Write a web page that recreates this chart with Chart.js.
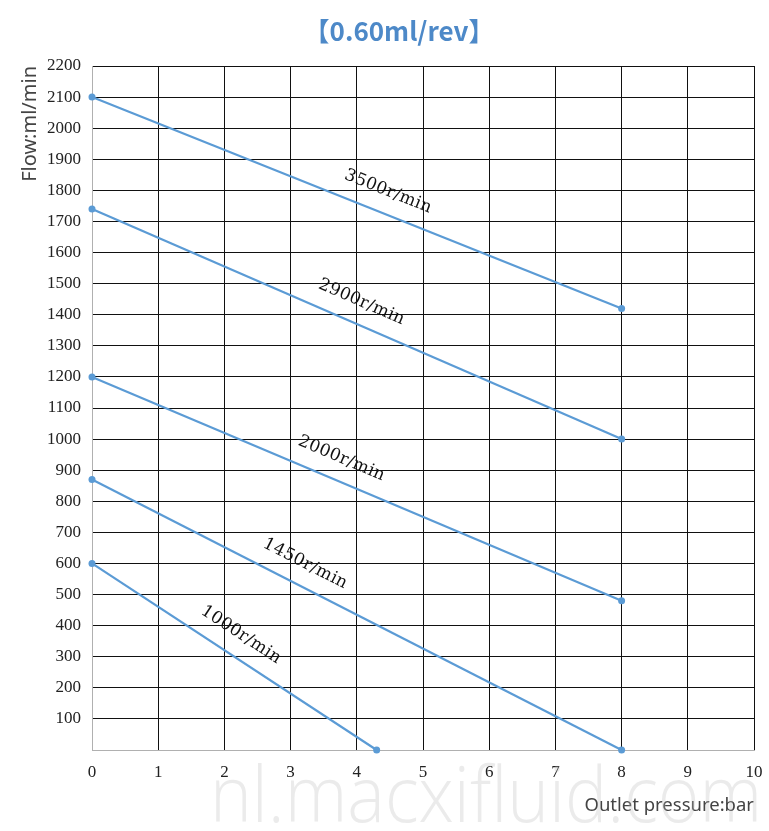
<!DOCTYPE html>
<html>
<head>
<meta charset="utf-8">
<script src="https://cdn.jsdelivr.net/npm/chart.js@4.4.1/dist/chart.umd.min.js"></script>
<style>
html,body{margin:0;padding:0;background:#fff;}
#wrap{width:769px;height:831px;}
</style>
</head>
<body>
<div id="wrap"><canvas id="c" width="769" height="831"></canvas></div>
<script>
const chartTitle = '【0.60ml/rev】';
const speedLabels = ['3500r/min', '2900r/min', '2000r/min', '1450r/min', '1000r/min'];
const startPressure = [0, 0, 0, 0, 0];
const endPressure = [8, 8, 8, 8, 4.3];
const startFlow = [2100, 1740, 1200, 870, 600];
const endFlow = [1420, 1000, 480, 0, 0];
const labelAnchorPressure = [4.35, 3.94, 3.64, 3.07, 2.07];
const xTicks = [0, 1, 2, 3, 4, 5, 6, 7, 8, 9, 10];
const yTicks = [100, 200, 300, 400, 500, 600, 700, 800, 900, 1000, 1100, 1200, 1300, 1400, 1500, 1600, 1700, 1800, 1900, 2000, 2100, 2200];
const watermark = 'nl.macxifluid.com';

const lineColor = '#5b9bd5';

const datasets = speedLabels.map((s, i) => ({
  label: s,
  data: [{x: startPressure[i], y: startFlow[i]}, {x: endPressure[i], y: endFlow[i]}],
  showLine: true,
  clip: false,
  borderColor: lineColor,
  backgroundColor: lineColor,
  borderWidth: 2.2,
  pointRadius: 3.5,
  pointHoverRadius: 3.5,
  pointBorderWidth: 0
}));

const decorPlugin = {
  id: 'decor',
  afterDatasetsDraw(chart) {
    const ctx = chart.ctx;
    const xs = chart.scales.x, ys = chart.scales.y;
    ctx.save();
    ctx.font = '17px "DejaVu Serif"';
    ctx.fillStyle = '#111';
    ctx.textAlign = 'center';
    ctx.textBaseline = 'middle';
    try { ctx.letterSpacing = '0.3px'; } catch(e) {}
    speedLabels.forEach((s, i) => {
      const x0 = xs.getPixelForValue(startPressure[i]);
      const y0 = ys.getPixelForValue(startFlow[i]);
      const x1 = xs.getPixelForValue(endPressure[i]);
      const y1 = ys.getPixelForValue(endFlow[i]);
      const ang = Math.atan2(y1 - y0, x1 - x0);
      const t = (labelAnchorPressure[i] - startPressure[i]) / (endPressure[i] - startPressure[i]);
      const ax = x0 + (x1 - x0) * t;
      const ay = y0 + (y1 - y0) * t;
      ctx.save();
      ctx.translate(ax, ay);
      ctx.rotate(ang);
      ctx.fillText(s, 0, -22);
      ctx.restore();
    });
    ctx.restore();
  },
  afterDraw(chart) {
    const ctx = chart.ctx;
    ctx.save();
    ctx.font = '600 26px "Noto Sans CJK SC", "Noto Sans"';
    ctx.fillStyle = '#4d89c8';
    ctx.textAlign = 'center';
    ctx.textBaseline = 'middle';
    ctx.fillText(chartTitle, 399, 31);
    ctx.font = '300 78px "Open Sans", "Noto Sans", sans-serif';
    ctx.fillStyle = 'rgba(190,190,190,0.3)';
    ctx.textAlign = 'left';
    ctx.textBaseline = 'alphabetic';
    ctx.fillText(watermark, 210, 822, 552);
    ctx.restore();
  }
};

new Chart(document.getElementById('c'), {
  type: 'scatter',
  data: { datasets },
  plugins: [decorPlugin],
  options: {
    responsive: false,
    animation: false,
    events: [],
    layout: { padding: { top: 66, right: 15, left: 0, bottom: 0 } },
    plugins: { legend: { display: false }, tooltip: { enabled: false }, title: { display: false } },
    scales: {
      x: {
        type: 'linear', min: 0, max: 10,
        afterBuildTicks(scale) { scale.ticks = xTicks.map(v => ({value: v})); },
        afterFit(scale) { scale.height = 81; scale.paddingLeft = 0; scale.paddingRight = 0; },
        ticks: { font: { family: 'Liberation Serif', size: 17 }, color: '#222', padding: 12, maxRotation: 0 },
        grid: { color: ctx => ctx.index === 0 ? '#b0b0b0' : '#111', lineWidth: 1, drawTicks: false },
        border: { color: '#b0b0b0', width: 1 },
        title: { display: true, text: 'Outlet pressure:bar', align: 'end', color: '#444', font: { family: 'Noto Sans', size: 18.5 }, padding: { top: 0, bottom: 14 } }
      },
      y: {
        type: 'linear', min: 0, max: 2200,
        afterBuildTicks(scale) { scale.ticks = [{value: 0}].concat(yTicks.map(v => ({value: v}))); },
        afterFit(scale) { scale.width = 92; scale.paddingTop = 0; scale.paddingBottom = 0; },
        ticks: { font: { family: 'Liberation Serif', size: 17 }, color: '#222', padding: 11, callback: v => v === 0 ? '' : String(v) },
        grid: { color: ctx => ctx.index === 0 ? '#b0b0b0' : '#111', lineWidth: 1, drawTicks: false },
        border: { color: '#b0b0b0', width: 1 },
        title: { display: true, text: 'Flow:ml/min', align: 'end', color: '#444', font: { family: 'Noto Sans', size: 20 }, padding: { top: 18, bottom: 0 } }
      }
    }
  }
});
</script>
</body>
</html>
